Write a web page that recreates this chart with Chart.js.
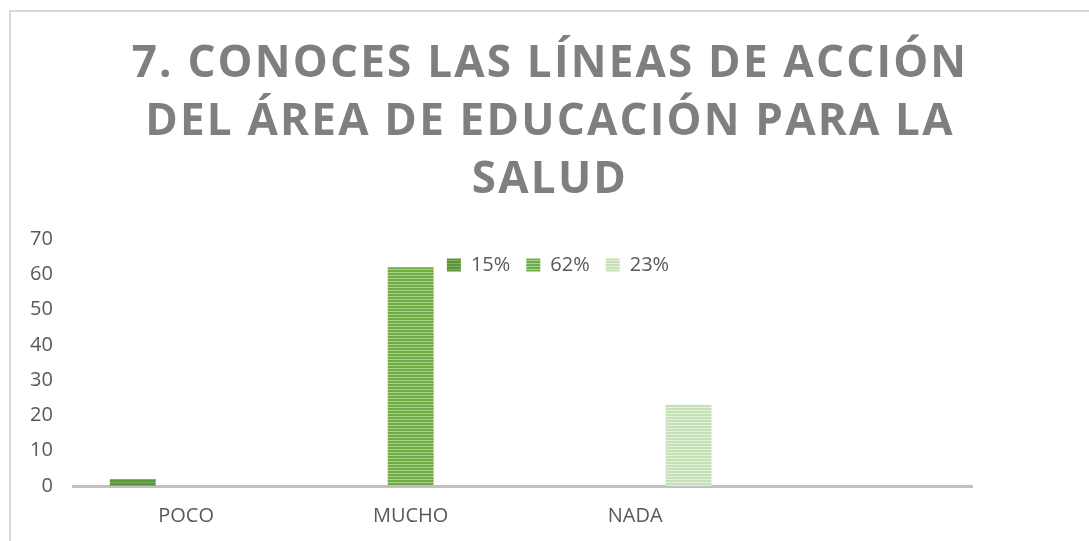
<!DOCTYPE html>
<html>
<head>
<meta charset="utf-8">
<script src="https://cdn.jsdelivr.net/npm/chart.js@4/dist/chart.umd.min.js"></script>
<style>
    html, body { margin: 0; padding: 0; background: #fff; }
    #wrap { position: relative; width: 1089px; height: 541px; overflow: hidden; }
    #frame {
        position: absolute; left: 9px; top: 10px; width: 1100px; height: 560px;
        border-top: 2px solid #d9d9d9; border-left: 2px solid #d9d9d9;
    }
    #titulo {
        position: absolute; left: 10px; top: 31px; width: 1080px;
        text-align: center; font-family: "Open Sans", sans-serif; font-weight: 700;
        font-size: 44px; line-height: 58px; letter-spacing: 2.2px; color: #7f7f7f;
    }
    #grafico { position: absolute; left: 0; top: 0; }
</style>
</head>
<body>
<div id="wrap">
    <div id="frame"></div>
    <canvas id="grafico" width="1089" height="541"></canvas>
    <div id="titulo">7. CONOCES LAS LÍNEAS DE ACCIÓN<br>DEL ÁREA DE EDUCACIÓN PARA LA<br>SALUD</div>
</div>
<script>
// Datos del gráfico
const categorias = ['POCO', 'MUCHO', 'NADA', ''];
const series = ['15%', '62%', '23%'];
const valoresPoco = [2, null, null, null];
const valoresMucho = [null, 62, null, null];
const valoresNada = [null, null, 23, null];
const ticksY = [0, 10, 20, 30, 40, 50, 60, 70];

// Patrón de rayas horizontales para las barras
function rayas(color, claro) {
    const c = document.createElement('canvas');
    c.width = 4;
    c.height = 3;
    const g = c.getContext('2d');
    g.fillStyle = color;
    g.fillRect(0, 0, 4, 2);
    g.fillStyle = claro;
    g.fillRect(0, 2, 4, 1);
    return g.createPattern(c, 'repeat');
}

const colores = [
    rayas('#5b9539', '#7fae62'),
    rayas('#70ad47', '#a9d18e'),
    rayas('#c5e0b4', '#e4f1dc')
];

// La leyenda va dentro del área del gráfico, arriba y algo a la derecha
const moverLeyenda = {
    id: 'moverLeyenda',
    afterLayout(chart) {
        const lg = chart.legend;
        const h = lg.bottom - lg.top;
        const dx = 558 - (lg.left + lg.right) / 2;
        lg.top = chart.chartArea.top;
        lg.bottom = lg.top + h;
        lg.left += dx;
        lg.right += dx;
    }
};

const fuente = { family: '"Open Sans", sans-serif', size: 20 };

new Chart(document.getElementById('grafico'), {
    type: 'bar',
    data: {
        labels: categorias,
        datasets: [valoresPoco, valoresMucho, valoresNada].map((d, i) => ({
            label: series[i],
            data: d,
            backgroundColor: colores[i],
            borderWidth: 0,
            categoryPercentage: 0.713,
            barPercentage: 0.86
        }))
    },
    options: {
        responsive: false,
        animation: false,
        layout: { padding: { top: 193, left: 9, right: 117, bottom: -5 } },
        scales: {
            x: {
                grid: { display: false, drawTicks: false },
                border: { display: true, color: '#c0c0c0', width: 3 },
                ticks: { color: '#595959', font: fuente, padding: 18 }
            },
            y: {
                min: 0,
                max: 70,
                afterBuildTicks: (axis) => { axis.ticks = ticksY.map(v => ({ value: v })); },
                grid: { display: false, drawTicks: false },
                border: { display: false },
                ticks: { color: '#595959', font: fuente, padding: 21 }
            }
        },
        plugins: {
            legend: {
                position: 'top',
                labels: {
                    color: '#595959',
                    font: fuente,
                    boxWidth: 14,
                    boxHeight: 13,
                    padding: 16
                }
            },
            tooltip: { enabled: false }
        }
    },
    plugins: [moverLeyenda]
});
</script>
</body>
</html>
